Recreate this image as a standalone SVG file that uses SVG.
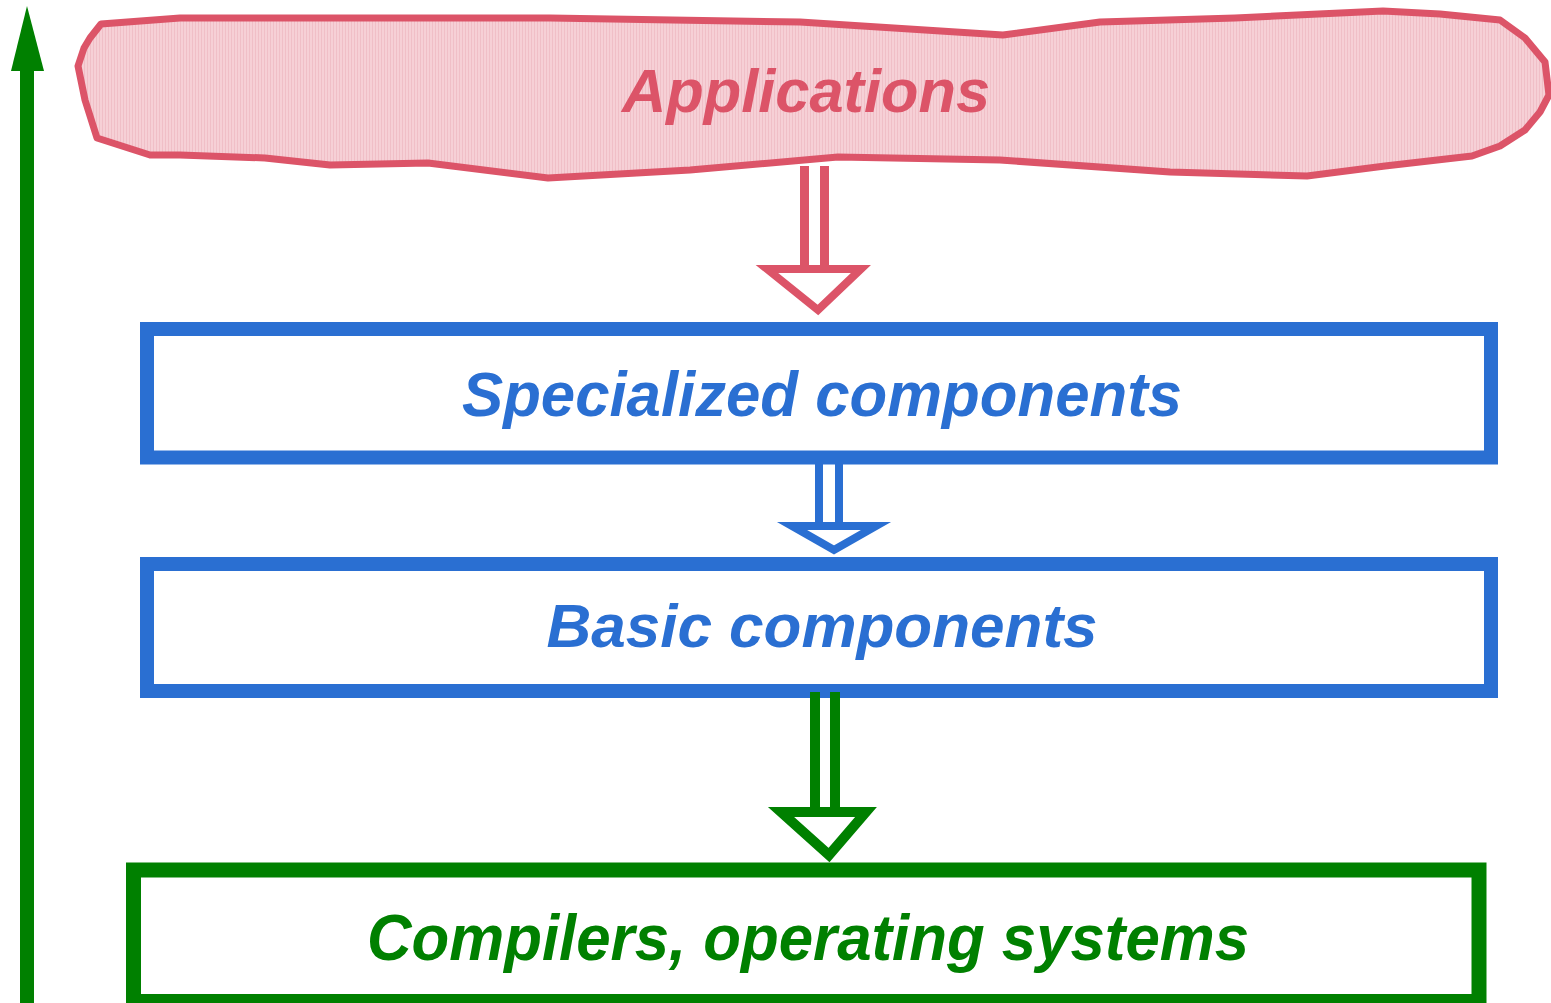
<svg xmlns="http://www.w3.org/2000/svg" width="1551" height="1003" viewBox="0 0 1551 1003">
  <defs>
    <!-- fine vertical hatch used for the cloud fill -->
    <pattern id="hatch" width="3" height="10" patternUnits="userSpaceOnUse">
      <rect width="3" height="10" fill="#f6d0d6"/>
      <rect width="1" height="10" fill="#f0bfc7"/>
    </pattern>
  </defs>
  <style>
    .lbl { font-family: "Liberation Sans", Arial, sans-serif; font-weight: bold; font-style: italic; text-anchor: middle; }
    .red { fill: #dc5468; }
    .blue { fill: #2a6fd2; }
    .green { fill: #008000; }
    .box-blue { fill: #ffffff; stroke: #2a6fd2; stroke-width: 14; }
    .box-green { fill: #ffffff; stroke: #008000; stroke-width: 15; }
    .head { fill: #ffffff; stroke-linejoin: miter; }
  </style>

  <!-- upward axis on the left -->
  <g id="axis">
    <rect x="20" y="70" width="14" height="940" fill="#008000"/>
    <polygon points="11,71 44,71 27,6" fill="#008000"/>
  </g>

  <!-- Applications cloud -->
  <g id="applications">
    <polygon fill="url(#hatch)" stroke="#dc5468" stroke-width="7" stroke-linejoin="round"
      points="101,24 180,18 550,18 800,22 1003,35 1100,22 1235,18 1383,11 1440,14 1500,20 1525,38 1545,62 1549,95 1540,112 1525,130 1500,146 1472,156 1385,166 1307,176 1170,172 1000,160 838,157 690,170 548,178 428,163 330,165 265,158 180,155 150,155 97,138 85,100 78,66 84,48 90,38"/>
    <text class="lbl red" x="806" y="112" font-size="61" textLength="368" lengthAdjust="spacingAndGlyphs">Applications</text>
  </g>

  <!-- Specialized components -->
  <g id="specialized">
    <rect class="box-blue" x="147" y="329" width="1344" height="128.5"/>
    <text class="lbl blue" x="822" y="416" font-size="63" textLength="720" lengthAdjust="spacingAndGlyphs">Specialized components</text>
  </g>

  <!-- Basic components -->
  <g id="basic">
    <rect class="box-blue" x="147" y="564" width="1344" height="127"/>
    <text class="lbl blue" x="822" y="647" font-size="62" textLength="551" lengthAdjust="spacingAndGlyphs">Basic components</text>
  </g>

  <!-- Compilers, operating systems -->
  <g id="compilers">
    <rect class="box-green" x="133.5" y="870" width="1345.5" height="131.5"/>
    <text class="lbl green" x="808" y="960" font-size="64" textLength="882" lengthAdjust="spacingAndGlyphs">Compilers, operating systems</text>
  </g>

  <!-- hollow double-line arrows between layers -->
  <g id="connectors">
    <g>
      <rect x="800" y="166" width="9" height="107" fill="#dc5468"/>
      <rect x="820" y="166" width="9" height="107" fill="#dc5468"/>
      <polygon class="head" stroke="#dc5468" stroke-width="8" points="767,269 861,269 818,310"/>
    </g>
    <g>
      <rect x="815" y="464" width="8" height="66" fill="#2a6fd2"/>
      <rect x="835" y="464" width="8" height="66" fill="#2a6fd2"/>
      <polygon class="head" stroke="#2a6fd2" stroke-width="8" points="792,526 876,526 834,550"/>
    </g>
    <g>
      <rect x="810" y="692" width="10" height="125" fill="#008000"/>
      <rect x="830" y="692" width="10" height="125" fill="#008000"/>
      <polygon class="head" stroke="#008000" stroke-width="10" points="781,812 866,812 829,855"/>
    </g>
  </g>
</svg>
